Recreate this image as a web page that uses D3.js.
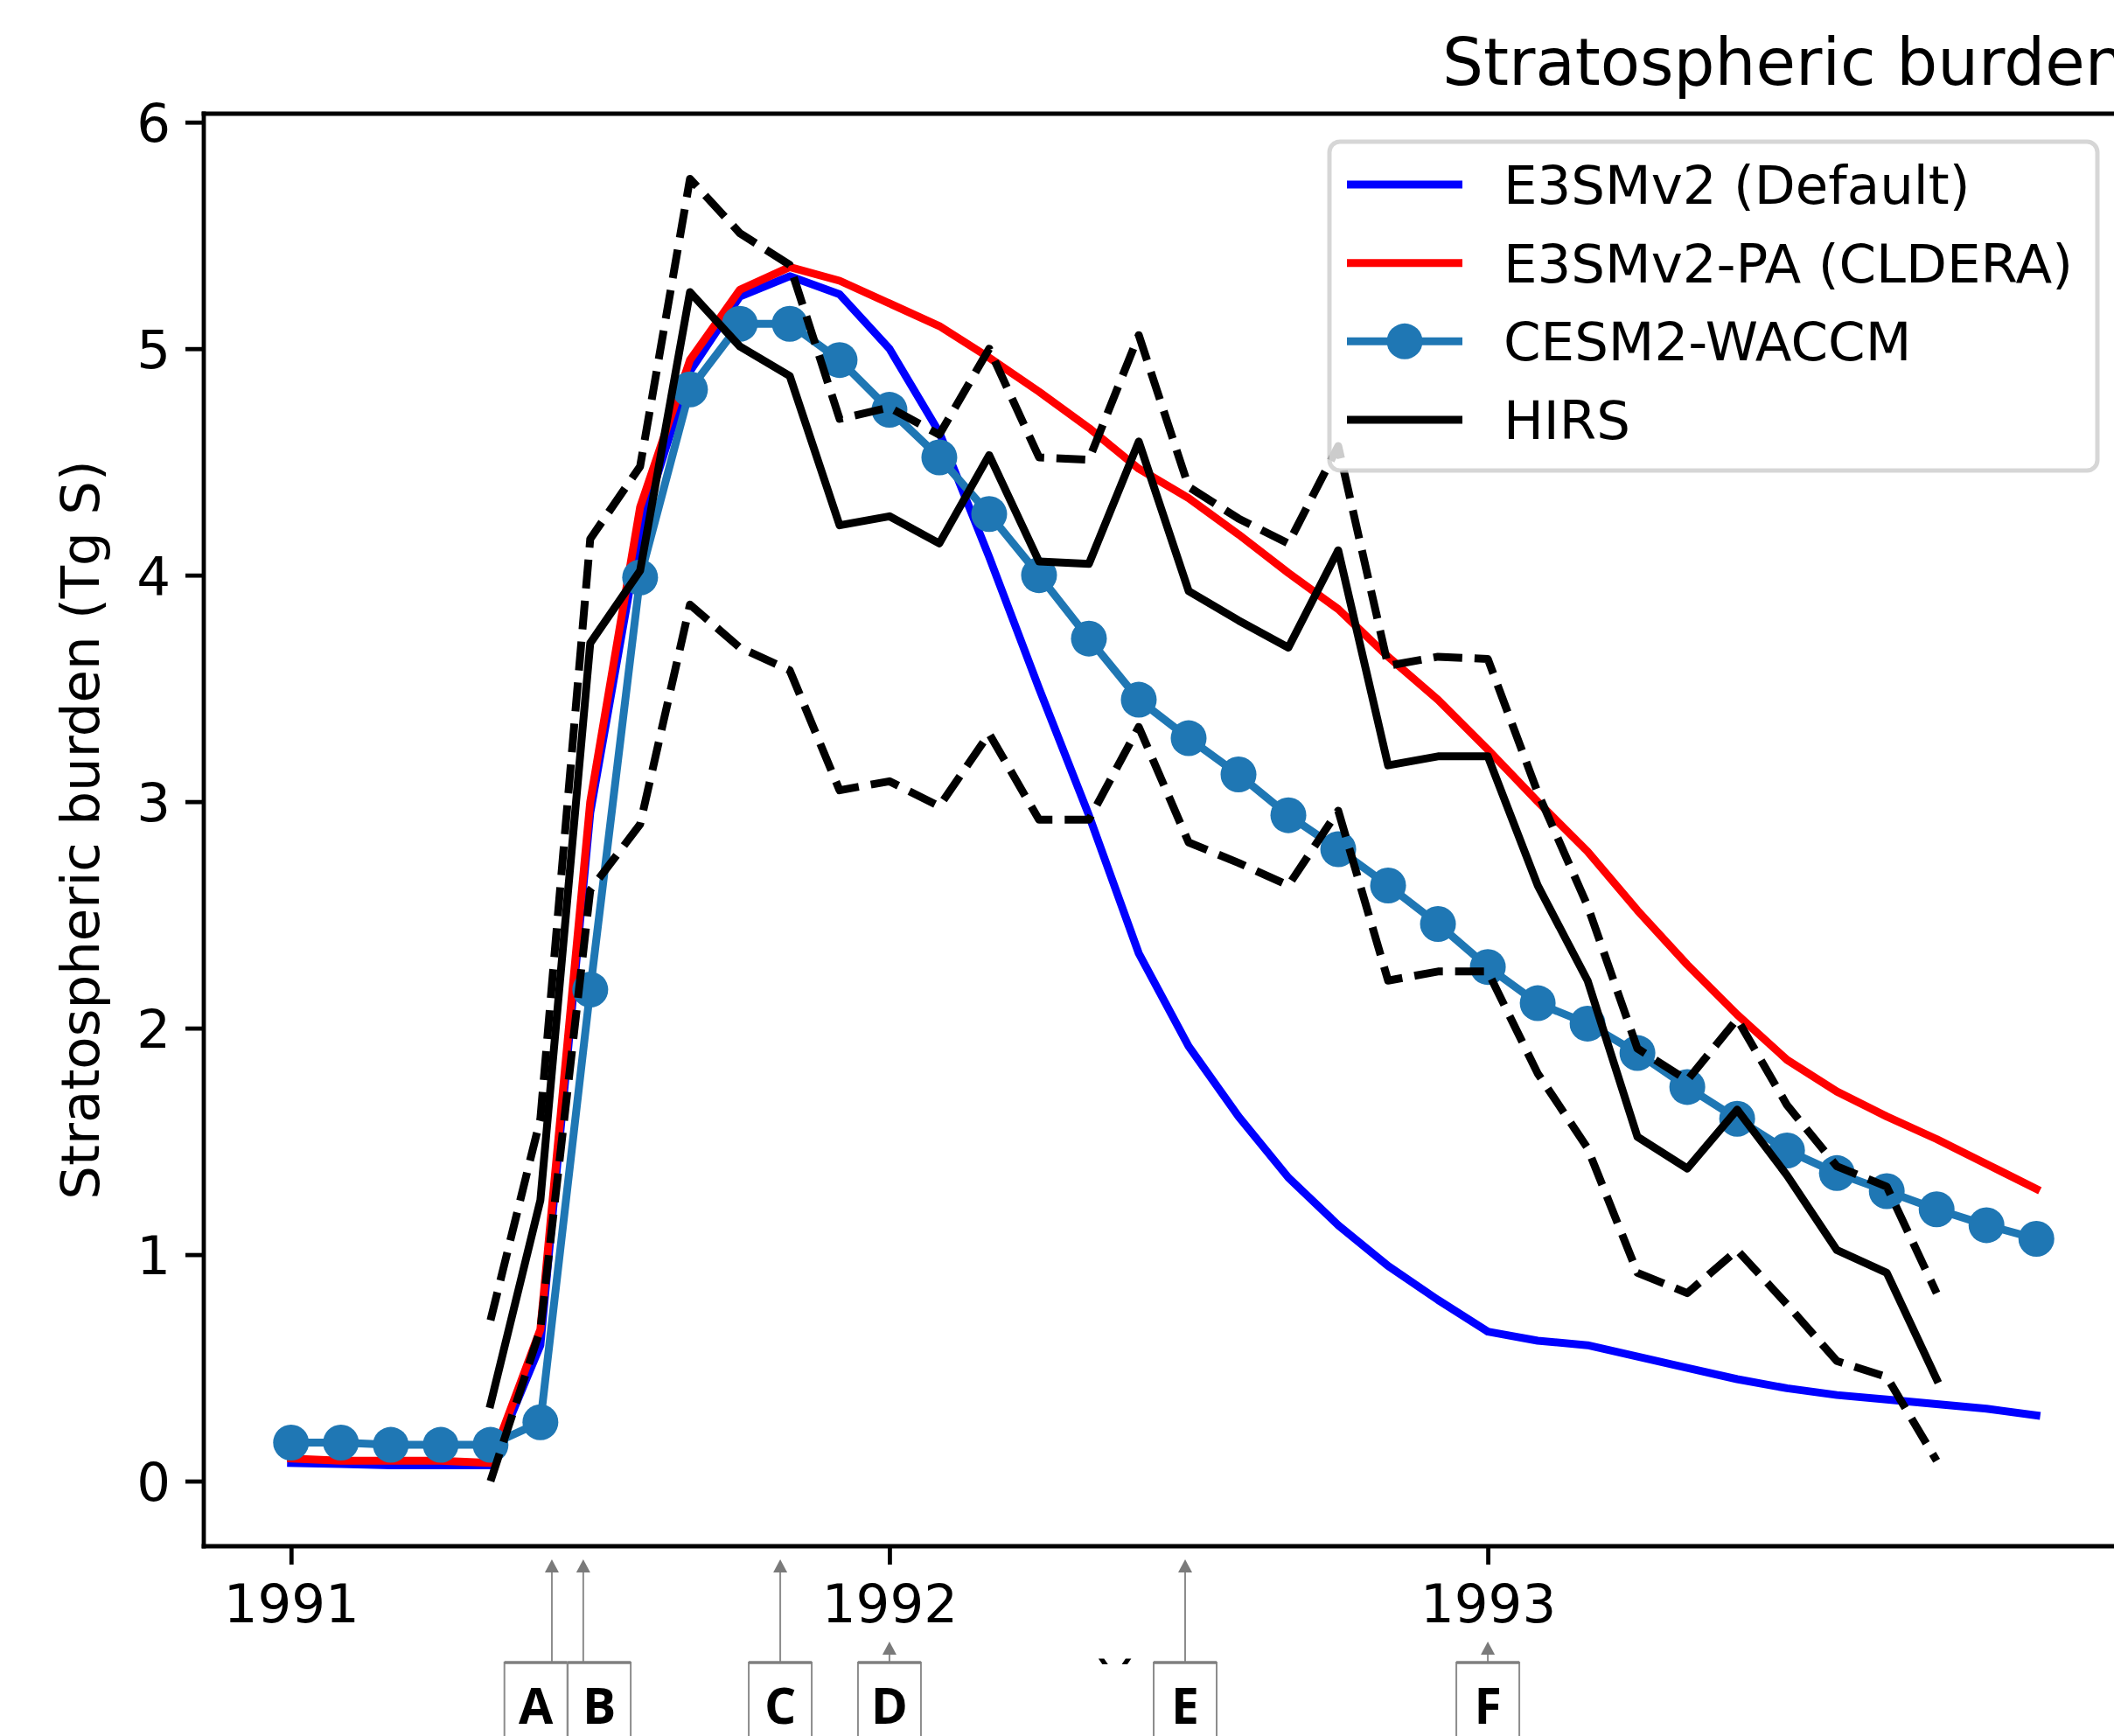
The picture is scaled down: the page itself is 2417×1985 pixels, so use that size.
<!DOCTYPE html>
<html lang="en">
<head>
    <meta charset="UTF-8">
    <title>Stratospheric burden</title>
    <script src="https://d3js.org/d3.v7.min.js"></script>
    <style>
        body {
            margin: 0;
            background: #fff;
            font-family: "DejaVu Sans", sans-serif;
        }
        .line {
            fill: none;
            stroke-width: 9;
            stroke-linejoin: round;
        }
        .dashed {
            stroke-dasharray: 33 14;
        }
        .tick-label {
            font-size: 61px;
        }
        .box-label {
            font-family: "Open Sans", sans-serif;
            font-weight: 700;
            font-size: 57px;
        }
    </style>
</head>
<body>
    <div id="chart"></div>
    <script>
        // Months of the model output (first of each month)
        var months = ["1991-01","1991-02","1991-03","1991-04","1991-05","1991-06",
                      "1991-07","1991-08","1991-09","1991-10","1991-11","1991-12",
                      "1992-01","1992-02","1992-03","1992-04","1992-05","1992-06",
                      "1992-07","1992-08","1992-09","1992-10","1992-11","1992-12",
                      "1993-01","1993-02","1993-03","1993-04","1993-05","1993-06",
                      "1993-07","1993-08","1993-09","1993-10","1993-11","1993-12"];

        // Stratospheric burden (Tg S)
        var e3smDefault = [0.08,0.075,0.07,0.07,0.07,0.60,2.95,4.20,4.90,5.23,5.32,5.24,
                           5.00,4.63,4.08,3.50,2.94,2.33,1.92,1.61,1.34,1.13,0.95,0.80,
                           0.66,0.62,0.60,0.55,0.50,0.45,0.41,0.38,0.36,0.34,0.32,0.29];
        var e3smPA = [0.10,0.09,0.09,0.09,0.08,0.67,3.00,4.30,4.95,5.26,5.36,5.30,
                      5.20,5.10,4.96,4.81,4.65,4.47,4.34,4.18,4.01,3.85,3.64,3.45,
                      3.23,3.00,2.78,2.52,2.28,2.06,1.86,1.72,1.61,1.51,1.40,1.29];
        var cesm2 = [0.17,0.17,0.16,0.16,0.16,0.26,2.17,3.99,4.82,5.11,5.11,4.95,
                     4.73,4.52,4.27,4.00,3.72,3.45,3.28,3.12,2.94,2.79,2.63,2.46,
                     2.27,2.11,2.02,1.89,1.74,1.60,1.46,1.36,1.28,1.20,1.13,1.07];

        // HIRS observations start in May 1991 and end in October 1993
        var hirsMonths = months.slice(4, 34);
        var hirs = [0.34,1.24,3.70,4.02,5.25,5.01,4.88,4.22,4.26,4.14,4.53,4.06,4.05,4.59,3.93,
                    3.80,3.68,4.11,3.16,3.20,3.20,2.63,2.21,1.52,1.38,1.64,1.35,1.02,0.92,0.45];
        var hirsUpper = [0.71,1.60,4.16,4.48,5.75,5.51,5.37,4.69,4.74,4.62,5.00,4.52,4.51,5.06,4.39,
                         4.25,4.14,4.57,3.60,3.64,3.63,3.04,2.54,1.91,1.77,2.04,1.66,1.39,1.30,0.83];
        var hirsLower = [0.00,0.67,2.61,2.90,3.87,3.68,3.58,3.05,3.09,2.98,3.30,2.92,2.92,3.33,2.82,
                         2.73,2.63,2.96,2.21,2.25,2.25,1.80,1.47,0.92,0.83,1.02,0.78,0.53,0.46,0.09];

        var yTicks = [0, 1, 2, 3, 4, 5, 6];
        var xTickMonths = ["1991-01", "1992-01", "1993-01"];
        var xTickLabels = ["1991", "1992", "1993"];

        // Event markers under the axis (month position of the arrow and of the box)
        var events = ["A", "B", "C", "D", "E", "F"];
        var eventArrowAt = [5.23, 5.86, 9.81, 12, 17.93, 24];
        var eventBoxAt = [4.91, 6.18, 9.81, 12, 17.93, 24];
        var eventShort = [false, false, false, true, false, true];

        var seriesNames = ["E3SMv2 (Default)", "E3SMv2-PA (CLDERA)", "CESM2-WACCM", "HIRS"];
        var seriesColors = ["#0000ff", "#ff0000", "#1f77b4", "#000000"];

        var W = 2417, H = 1985;
        var plot = {left: 233, right: 2428, top: 130, bottom: 1768};

        var parseMonth = d3.timeParse("%Y-%m");
        var start = parseMonth(months[0]);
        function monthIndex(s) { return d3.timeMonth.count(start, parseMonth(s)); }

        var svg = d3.select("#chart").append("svg")
            .attr("width", W)
            .attr("height", H);

        // Scales with matplotlib-like 5% margins
        var x = d3.scaleLinear().domain([-1.75, 36.75]).range([plot.left, plot.right]);
        var y = d3.scaleLinear().domain([-0.2875, 6.0375]).range([plot.bottom, plot.top]);

        svg.append("clipPath").attr("id", "plotclip")
            .append("rect")
            .attr("x", plot.left).attr("y", plot.top)
            .attr("width", plot.right - plot.left).attr("height", plot.bottom - plot.top);

        var g = svg.append("g").attr("clip-path", "url(#plotclip)");

        function toPoints(ms, vals) {
            return vals.map(function(v, i) { return {m: monthIndex(ms[i]), v: v}; });
        }

        var line = d3.line()
            .x(function(d) { return x(d.m); })
            .y(function(d) { return y(d.v); });

        // Model runs
        g.append("path").datum(toPoints(months, e3smDefault))
            .attr("class", "line").attr("stroke", seriesColors[0]).attr("stroke-linecap", "square")
            .attr("d", line);
        g.append("path").datum(toPoints(months, e3smPA))
            .attr("class", "line").attr("stroke", seriesColors[1]).attr("stroke-linecap", "square")
            .attr("d", line);

        var cesmPts = toPoints(months, cesm2);
        g.append("path").datum(cesmPts)
            .attr("class", "line").attr("stroke", seriesColors[2]).attr("stroke-linecap", "square")
            .attr("d", line);
        g.selectAll(".cesm-dot").data(cesmPts).enter().append("circle")
            .attr("class", "cesm-dot")
            .attr("cx", function(d) { return x(d.m); })
            .attr("cy", function(d) { return y(d.v); })
            .attr("r", 20.5)
            .attr("fill", seriesColors[2]);

        // HIRS and its uncertainty range
        g.append("path").datum(toPoints(hirsMonths, hirs))
            .attr("class", "line").attr("stroke", seriesColors[3]).attr("stroke-linecap", "square")
            .attr("d", line);
        g.append("path").datum(toPoints(hirsMonths, hirsUpper))
            .attr("class", "line dashed").attr("stroke", "#000")
            .attr("d", line);
        g.append("path").datum(toPoints(hirsMonths, hirsLower))
            .attr("class", "line dashed").attr("stroke", "#000")
            .attr("d", line);

        // Spines
        var spine = svg.append("g").attr("stroke", "#000").attr("stroke-width", 4.8).attr("stroke-linecap", "square");
        spine.append("line").attr("x1", plot.left).attr("x2", plot.left).attr("y1", plot.top).attr("y2", plot.bottom);
        spine.append("line").attr("x1", plot.left).attr("x2", W + 10).attr("y1", plot.bottom).attr("y2", plot.bottom);
        spine.append("line").attr("x1", plot.left).attr("x2", W + 10).attr("y1", plot.top).attr("y2", plot.top);

        // Y axis
        var yAxis = d3.axisLeft(y).tickValues(yTicks).tickSize(21).tickPadding(17).tickFormat(d3.format("d"));
        var ya = svg.append("g").attr("transform", "translate(" + plot.left + ",0)").call(yAxis);
        ya.select(".domain").remove();
        ya.selectAll(".tick line").attr("stroke-width", 4.8);
        ya.selectAll(".tick text").attr("class", "tick-label").attr("font-family", "DejaVu Sans").attr("dy", "0.36em");

        // X axis
        var xAxis = d3.axisBottom(x)
            .tickValues(xTickMonths.map(monthIndex))
            .tickSize(21).tickPadding(17)
            .tickFormat(function(d, i) { return xTickLabels[i]; });
        var xa = svg.append("g").attr("transform", "translate(0," + plot.bottom + ")").call(xAxis);
        xa.select(".domain").remove();
        xa.selectAll(".tick line").attr("stroke-width", 4.8);
        xa.selectAll(".tick text").attr("class", "tick-label").attr("font-family", "DejaVu Sans").attr("dy", "0").attr("y", 87);

        // Axis labels and title
        svg.append("text")
            .attr("transform", "translate(113," + ((plot.top + plot.bottom) / 2) + ") rotate(-90)")
            .attr("text-anchor", "middle")
            .attr("font-size", 61)
            .text("Stratospheric burden (Tg S)");

        svg.append("text")
            .attr("x", (plot.left + plot.right) / 2 - 10)
            .attr("y", 1941)
            .attr("text-anchor", "middle")
            .attr("font-size", 61)
            .text("Year");

        svg.append("text")
            .attr("x", 1649)
            .attr("y", 97)
            .attr("font-size", 74)
            .text("Stratospheric burden");

        // Legend
        var legend = svg.append("g");
        legend.append("rect")
            .attr("x", 1520).attr("y", 162).attr("width", 878).attr("height", 376)
            .attr("rx", 12)
            .attr("fill", "#fff").attr("fill-opacity", 0.8)
            .attr("stroke", "#cccccc").attr("stroke-opacity", 0.8).attr("stroke-width", 5);

        var rowY = d3.scalePoint().domain(seriesNames).range([211, 480]);
        seriesNames.forEach(function(name, i) {
            var yy = rowY(name);
            legend.append("line")
                .attr("x1", 1540).attr("x2", 1672).attr("y1", yy).attr("y2", yy)
                .attr("stroke", seriesColors[i]).attr("stroke-width", 9);
            if (i === 2) {
                legend.append("circle").attr("cx", 1606).attr("cy", yy).attr("r", 20.5).attr("fill", seriesColors[i]);
            }
            legend.append("text")
                .attr("x", 1719).attr("y", yy + 22)
                .attr("font-size", 61)
                .text(name);
        });

        // White band holding the event boxes
        svg.append("rect").attr("x", 0).attr("y", 1903).attr("width", W).attr("height", H - 1903).attr("fill", "#fff");

        var ann = svg.append("g");
        events.forEach(function(label, i) {
            var ax = x(eventArrowAt[i]);
            var bx = x(eventBoxAt[i]);
            var tipY = eventShort[i] ? 1877 : 1783;
            ann.append("line")
                .attr("x1", ax).attr("x2", ax).attr("y1", 1901).attr("y2", tipY + 12)
                .attr("stroke", "#8c8c8c").attr("stroke-width", 2);
            ann.append("path")
                .attr("d", "M" + ax + "," + tipY + " L" + (ax - 8) + "," + (tipY + 15) + " L" + (ax + 8) + "," + (tipY + 15) + " Z")
                .attr("fill", "#7a7a7a");
            ann.append("rect")
                .attr("x", bx - 36).attr("y", 1901).attr("width", 72).attr("height", 120)
                .attr("fill", "#fff").attr("stroke", "#8c8c8c").attr("stroke-width", 2);
            ann.append("line")
                .attr("x1", bx - 36).attr("x2", bx + 36).attr("y1", 1901).attr("y2", 1901)
                .attr("stroke", "#7f7f7f").attr("stroke-width", 3.5);
            ann.append("text")
                .attr("class", "box-label")
                .attr("x", bx).attr("y", 1971)
                .attr("text-anchor", "middle")
                .text(label);
        });
    </script>
</body>
</html>
